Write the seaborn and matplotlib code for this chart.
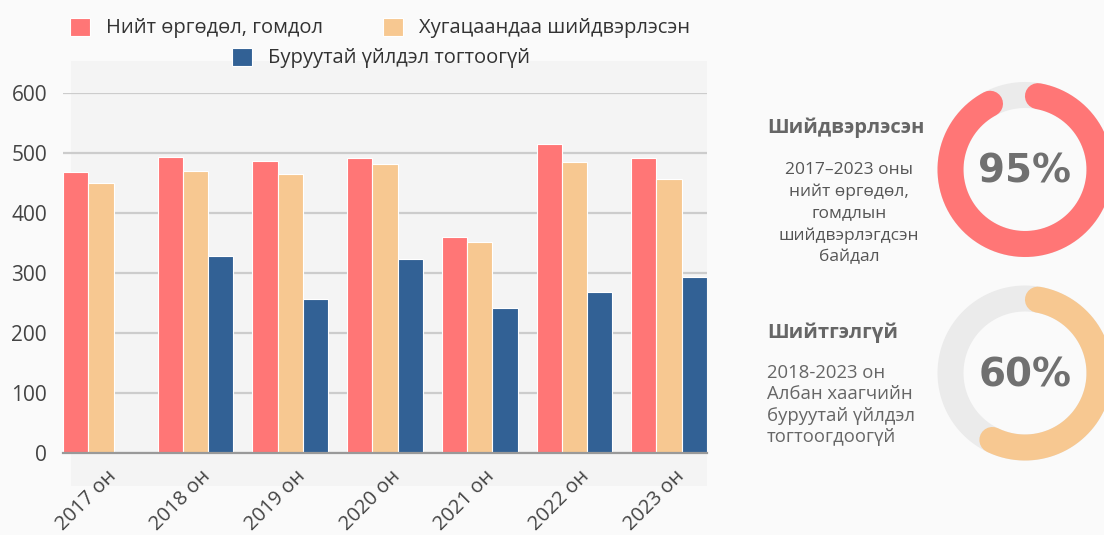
import numpy as np
import pandas as pd
import seaborn as sns
import matplotlib
matplotlib.use('Agg')
import matplotlib.pyplot as plt
from matplotlib.patches import Rectangle
import matplotlib.transforms as mtrans

# ---- data ----
years = ['2017 он', '2018 он', '2019 он', '2020 он', '2021 он', '2022 он', '2023 он']
total = [468, 493, 486, 492, 360, 515, 491]
on_time = [450, 470, 465, 482, 351, 485, 457]
no_fault = [np.nan, 328, 257, 323, 242, 268, 293]
series_names = ['Нийт өргөдөл, гомдол', 'Хугацаандаа шийдвэрлэсэн', 'Буруутай үйлдэл тогтоогүй']
colors = ['#ff7676', '#f7c891', '#326195']
yticks = [0, 100, 200, 300, 400, 500, 600]

donut_pcts = [95, 60]
donut_colors = ['#ff7676', '#f7c891']
donut_titles = ['Шийдвэрлэсэн', 'Шийтгэлгүй']
donut_texts = [['2017–2023 оны', 'нийт өргөдөл,', 'гомдлын', 'шийдвэрлэгдсэн', 'байдал'],
               ['2018-2023 он', 'Албан хаагчийн', 'буруутай үйлдэл', 'тогтоогдоогүй']]

sns.set_theme(style='white')
plt.rcParams['font.family'] = ['Open Sans', 'DejaVu Sans']

W, H = 1104, 535
fig = plt.figure(figsize=(W / 100, H / 100), dpi=100, facecolor='#fafafa')


def fx(px):
    return px / W


def fy(py):
    return 1 - py / H


panel = Rectangle((fx(71), fy(486)), fx(707) - fx(71), fy(61) - fy(486),
                  transform=fig.transFigure, facecolor='#f4f4f4', edgecolor='none', zorder=-5)
fig.add_artist(panel)

ax = fig.add_axes([fx(63), fy(453), fx(707) - fx(63), fy(93) - fy(453)])
ax.set_facecolor('none')
df = pd.DataFrame({
    'year': years * 3,
    'series': np.repeat(series_names, len(years)),
    'value': total + on_time + no_fault,
})
sns.barplot(data=df, x='year', y='value', hue='series', hue_order=series_names,
            palette=colors, width=0.8, gap=0, saturation=1, errorbar=None,
            edgecolor='#ffffff', linewidth=0.8, ax=ax)

ax.set_xlim(-0.4, 6.4)
ax.set_ylim(0, 600)
ax.set_yticks(yticks)
ax.yaxis.grid(True, color='#cccccc', linewidth=1.6)
ax.xaxis.grid(False)
ax.set_axisbelow(True)
for s in ['top', 'right', 'left']:
    ax.spines[s].set_visible(False)
ax.spines['bottom'].set_color('#999999')
ax.spines['bottom'].set_linewidth(1.6)
ax.tick_params(axis='y', length=0, pad=11.5, labelsize=15, labelcolor='#444444')
ax.tick_params(axis='x', length=0, pad=0, labelsize=14.5, labelcolor='#444444')
ax.set_xlabel('')
ax.set_ylabel('')
offset = mtrans.ScaledTranslation(12 / 100, -21 / 100, fig.dpi_scale_trans)
for lbl in ax.get_xticklabels():
    lbl.set_rotation(45)
    lbl.set_ha('right')
    lbl.set_va('center')
    lbl.set_rotation_mode('anchor')
    lbl.set_transform(lbl.get_transform() + offset)

handles, labels = ax.get_legend_handles_labels()
if ax.get_legend() is not None:
    ax.get_legend().remove()
leg_kw = dict(frameon=False, fontsize=14.5, handlelength=1.0, handleheight=1.0,
              handletextpad=0.8, columnspacing=3.0, labelcolor='#333333', loc='center')
fig.legend(handles[:2], labels[:2], ncol=2, bbox_to_anchor=(fx(380), fy(28)), **leg_kw)
fig.legend(handles[2:], labels[2:], ncol=1, bbox_to_anchor=(fx(381), fy(58)), **leg_kw)

# ---- donuts ----
centers_y = [169.5, 373]
r_mid = 74.5
ring_px = 26
lw_pt = ring_px * 0.72
for pct, col, cy in zip(donut_pcts, donut_colors, centers_y):
    dax = fig.add_axes([fx(1025 - 100), fy(cy + 100), 200 / W, 200 / H])
    dax.set_xlim(-100, 100)
    dax.set_ylim(-100, 100)
    dax.axis('off')
    th = np.linspace(0, 2 * np.pi, 361)
    dax.plot(r_mid * np.cos(th), r_mid * np.sin(th), color='#ebebeb', lw=lw_pt,
             solid_capstyle='butt', clip_on=False)
    cap = np.degrees((ring_px / 2) / r_mid)
    start = 90 - cap
    end = 90 - pct / 100 * 360 + cap
    th = np.radians(np.linspace(start, end, 400))
    dax.plot(r_mid * np.cos(th), r_mid * np.sin(th), color=col, lw=lw_pt,
             solid_capstyle='round', clip_on=False)
    dax.text(0, -2, f'{pct}%', ha='center', va='center', fontsize=28,
             fontweight='bold', color='#707070', family=['DejaVu Sans'])

fig.text(fx(767), fy(128), donut_titles[0], fontsize=14.5, fontweight='bold',
         color='#666666', ha='left', va='center')
for j, line in enumerate(donut_texts[0]):
    fig.text(fx(849), fy(170 + 21.8 * j), line, fontsize=12.5, color='#555555',
             ha='center', va='center')
fig.text(fx(767), fy(333), donut_titles[1], fontsize=14.5, fontweight='bold',
         color='#666666', ha='left', va='center')
for j, line in enumerate(donut_texts[1]):
    fig.text(fx(767), fy(373 + 21.3 * j), line, fontsize=13.3, color='#666666',
             ha='left', va='center')

fig.savefig('out.png', dpi=100, facecolor=fig.get_facecolor())
